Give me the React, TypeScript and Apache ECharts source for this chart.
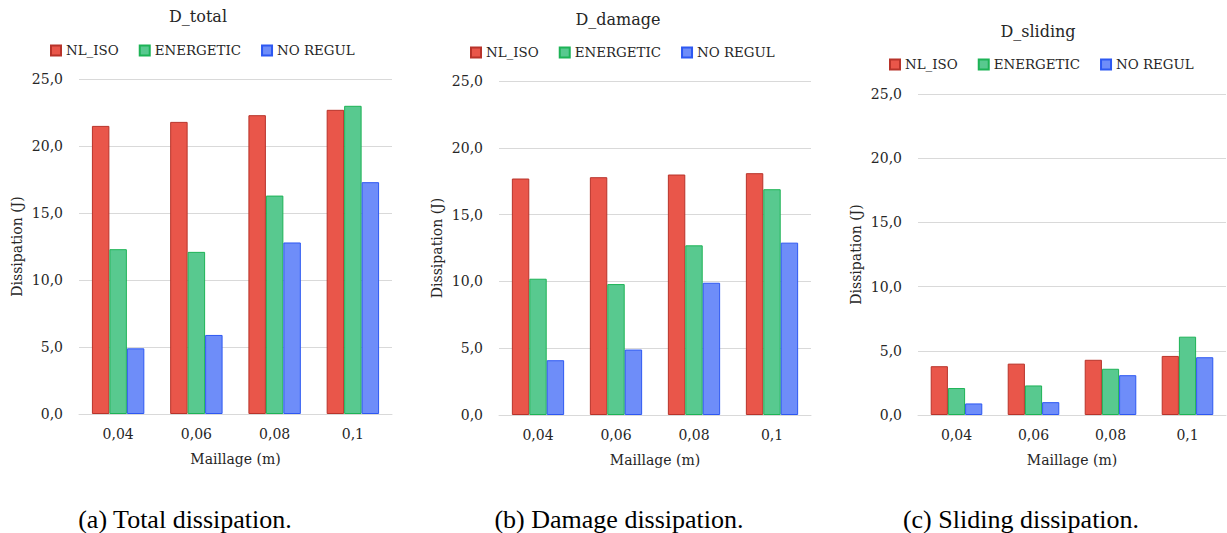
import React, { useEffect, useRef } from "react";
import * as echarts from "echarts";

const categories = ["0,04", "0,06", "0,08", "0,1"];
const seriesNames = ["NL_ISO", "ENERGETIC", "NO REGUL"];

const totalNlIso = [21.5, 21.8, 22.3, 22.7];
const totalEnergetic = [12.3, 12.1, 16.3, 23.0];
const totalNoRegul = [4.9, 5.9, 12.8, 17.3];

const damageNlIso = [17.7, 17.8, 18.0, 18.1];
const damageEnergetic = [10.2, 9.8, 12.7, 16.9];
const damageNoRegul = [4.1, 4.9, 9.9, 12.9];

const slidingNlIso = [3.8, 4.0, 4.3, 4.6];
const slidingEnergetic = [2.1, 2.3, 3.6, 6.1];
const slidingNoRegul = [0.9, 1.0, 3.1, 4.5];

const panelTitles = ["D_total", "D_damage", "D_sliding"];
const captions = ["(a) Total dissipation.", "(b) Damage dissipation.", "(c) Sliding dissipation."];
const yAxisName = "Dissipation (J)";
const xAxisName = "Maillage (m)";
const yMin = 0;
const yMax = 25;
const yInterval = 5;

const panelData = [
  [totalNlIso, totalEnergetic, totalNoRegul],
  [damageNlIso, damageEnergetic, damageNoRegul],
  [slidingNlIso, slidingEnergetic, slidingNoRegul],
];

const FONT = "'DejaVu Serif', serif";
const TEXT = "#262626";
const fills = ["#E9564A", "#58C98F", "#6E8DF9"];
const borders = ["#B8332A", "#1DB356", "#2D58F2"];

const grids = [
  { left: 79, top: 79, width: 313, height: 335 },
  { left: 499, top: 81, width: 312, height: 334 },
  { left: 918, top: 94, width: 308, height: 321 },
];
const titlePos = [
  { x: 198, y: 16 },
  { x: 618, y: 19 },
  { x: 1038, y: 31 },
];
const legendPos = [
  { left: 50, top: 44 },
  { left: 470, top: 46 },
  { left: 889, top: 58 },
];
const captionPos = [185, 619, 1021];

export default function App() {
  const ref = useRef<HTMLDivElement>(null);
  useEffect(() => {
    if (!ref.current) return;
    const chart = echarts.init(ref.current, null, { renderer: "svg" });
    const series: any[] = [];
    panelData.forEach((arrs, gi) => {
      arrs.forEach((vals, si) => {
        series.push({
          type: "bar",
          name: seriesNames[si],
          xAxisIndex: gi,
          yAxisIndex: gi,
          data: vals,
          barGap: "0%",
          barCategoryGap: "33%",
          itemStyle: { color: fills[si], borderColor: borders[si], borderWidth: 1 },
        });
      });
    });
    const graphics: any[] = [];
    panelTitles.forEach((t, i) => {
      graphics.push({
        type: "text",
        x: titlePos[i].x,
        y: titlePos[i].y,
        style: {
          text: t,
          fill: TEXT,
          font: `16px ${FONT}`,
          textAlign: "center",
          textVerticalAlign: "middle",
        },
      });
    });
    captions.forEach((c, i) => {
      graphics.push({
        type: "text",
        x: captionPos[i],
        y: 519,
        style: {
          text: c,
          fill: "#000",
          font: `26px 'Liberation Serif', serif`,
          textAlign: "center",
          textVerticalAlign: "middle",
        },
      });
    });
    chart.setOption({
      animation: false,
      backgroundColor: "#fff",
      textStyle: { fontFamily: FONT },
      graphic: graphics,
      legend: legendPos.map((p) => ({
        left: p.left,
        top: p.top,
        padding: 0,
        itemWidth: 10,
        itemHeight: 10,
        itemGap: 20,
        icon: "rect",
        data: seriesNames,
        textStyle: { fontFamily: FONT, fontSize: 13.4, color: TEXT },
        selectedMode: false,
      })),
      grid: grids.map((g) => ({ ...g })),
      xAxis: grids.map((_, i) => ({
        type: "category",
        gridIndex: i,
        data: categories,
        name: xAxisName,
        nameLocation: "middle",
        nameGap: 38,
        nameTextStyle: { fontFamily: FONT, fontSize: 14, color: TEXT },
        axisLine: { lineStyle: { color: "#D9D9D9" } },
        axisTick: { show: false },
        axisLabel: { fontFamily: FONT, fontSize: 14, color: TEXT, margin: 13 },
      })),
      yAxis: grids.map((_, i) => ({
        type: "value",
        gridIndex: i,
        min: yMin,
        max: yMax,
        interval: yInterval,
        name: yAxisName,
        nameLocation: "middle",
        nameGap: 55,
        nameTextStyle: { fontFamily: FONT, fontSize: 14, color: TEXT },
        axisLine: { show: false },
        axisTick: { show: false },
        splitLine: { lineStyle: { color: "#D9D9D9", width: 1 } },
        axisLabel: {
          fontFamily: FONT,
          fontSize: 14,
          color: TEXT,
          margin: 16,
          formatter: (v: number) => v.toFixed(1).replace(".", ","),
        },
      })),
      series,
    });
    return () => chart.dispose();
  }, []);
  return (
    <div
      ref={ref}
      style={{ position: "absolute", left: 0, top: 0, width: 1227, height: 533 }}
    />
  );
}
